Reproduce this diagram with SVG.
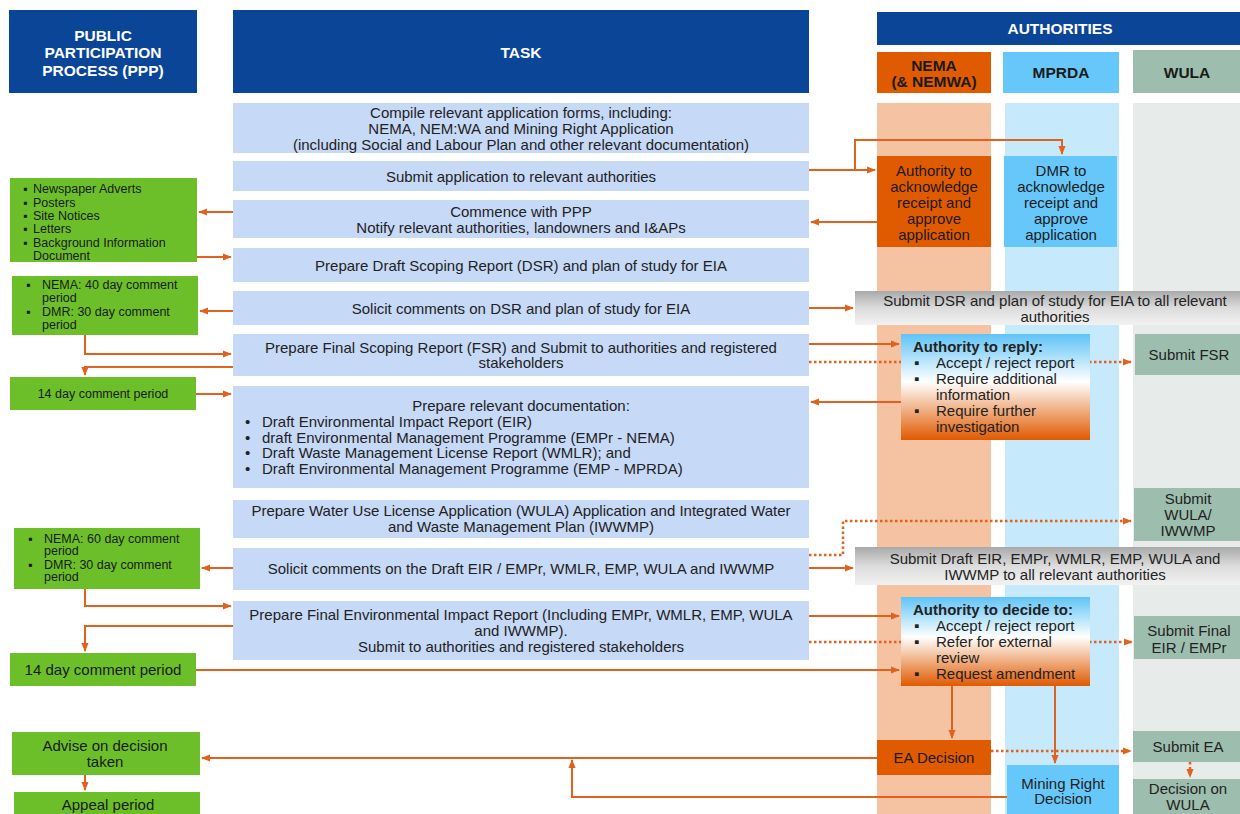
<svg xmlns="http://www.w3.org/2000/svg" width="1240" height="814" viewBox="0 0 1240 814">
<defs>
<marker id="a" viewBox="0 0 10 10" refX="9" refY="5" markerWidth="9" markerHeight="9" orient="auto" markerUnits="userSpaceOnUse">
<path d="M0,1 L10,5 L0,9 z" fill="#e0621c"/>
</marker>
<linearGradient id="gray" x1="0" y1="0" x2="0" y2="1">
<stop offset="0" stop-color="#a9a9a9"/>
<stop offset="0.5" stop-color="#dcdcdc"/>
<stop offset="1" stop-color="#f2f2f2"/>
</linearGradient>
<linearGradient id="bo" x1="0" y1="0" x2="0" y2="1">
<stop offset="0" stop-color="#5fc3f7"/>
<stop offset="0.45" stop-color="#ffffff"/>
<stop offset="1" stop-color="#e05a00"/>
</linearGradient>
<style>
text{font-family:"Liberation Sans",Arial,sans-serif;fill:#222;}
.hd{fill:#0b4598;}
.ht{fill:#fff;font-weight:bold;font-size:15.5px;text-anchor:middle;}
.hk{fill:#1a1a1a;font-weight:bold;font-size:15.5px;text-anchor:middle;}
.task{fill:#c6d9f7;}
.tt{font-size:15px;text-anchor:middle;}
.tl{font-size:15px;}
.grn{fill:#6cbf28;}
.gt{font-size:12.5px;fill:#1a1a1a;}
.gc{text-anchor:middle;fill:#1a1a1a;}
.or{fill:#e05a00;}
.bl{fill:#66c8fa;}
.sg{fill:#9dbeae;}
.at{font-size:15px;text-anchor:middle;fill:#1a1a1a;}
.c{fill:none;stroke:#e0621c;stroke-width:2;}
.d{fill:none;stroke:#e0621c;stroke-width:2.5;stroke-dasharray:2.5 2.5;}
</style>
</defs>
<rect width="1240" height="814" fill="#fff"/>

<!-- lanes -->
<g id="lanes">
<rect x="877" y="103" width="114" height="711" fill="#f5c3a2"/>
<rect x="1005" y="103" width="114" height="711" fill="#c6e9fb"/>
<rect x="1133" y="103" width="107" height="711" fill="#e7ecea"/>
</g>

<!-- headers -->
<g id="hdr-ppp">
<rect class="hd" x="9" y="10" width="188" height="83"/>
<text class="ht" x="103" y="41">PUBLIC</text>
<text class="ht" x="103" y="58">PARTICIPATION</text>
<text class="ht" x="103" y="76">PROCESS (PPP)</text>
</g>
<g id="hdr-task">
<rect class="hd" x="233" y="10" width="576" height="83"/>
<text class="ht" x="521" y="58">TASK</text>
</g>
<g id="hdr-auth">
<rect class="hd" x="877" y="12" width="363" height="33"/>
<text class="ht" x="1060" y="34">AUTHORITIES</text>
</g>
<g id="hdr-nema">
<rect class="or" x="877" y="52" width="114" height="41"/>
<text class="hk" x="934" y="71">NEMA</text>
<text class="hk" x="934" y="87">(&amp; NEMWA)</text>
</g>
<g id="hdr-mprda">
<rect class="bl" x="1003" y="52" width="116" height="41"/>
<text class="hk" x="1061" y="78">MPRDA</text>
</g>
<g id="hdr-wula">
<rect class="sg" x="1133" y="50" width="107" height="43"/>
<text class="hk" x="1187" y="78">WULA</text>
</g>

<!-- connectors -->
<g id="connectors">
<path class="c" d="M809,170 H875" marker-end="url(#a)"/>
<path class="c" d="M855,170 V140 H1062 V154" marker-end="url(#a)"/>
<path class="c" d="M877,222 H811" marker-end="url(#a)"/>
<path class="c" d="M233,212 H199" marker-end="url(#a)"/>
<path class="c" d="M197,257 H231" marker-end="url(#a)"/>
<path class="c" d="M233,311 H200" marker-end="url(#a)"/>
<path class="c" d="M809,308 H853" marker-end="url(#a)"/>
<path class="c" d="M85,335 V354 H231" marker-end="url(#a)"/>
<path class="c" d="M233,367 H85 V375" marker-end="url(#a)"/>
<path class="c" d="M196,394 H231" marker-end="url(#a)"/>
<path class="c" d="M809,344 H899" marker-end="url(#a)"/>
<path class="d" d="M809,362 H1131" marker-end="url(#a)"/>
<path class="c" d="M901,402 H811" marker-end="url(#a)"/>
<path class="c" d="M233,568 H202" marker-end="url(#a)"/>
<path class="c" d="M809,568 H853" marker-end="url(#a)"/>
<path class="d" d="M809,555 H843 V521 H1131" marker-end="url(#a)"/>
<path class="c" d="M85,589 V606 H231" marker-end="url(#a)"/>
<path class="c" d="M233,626 H85 V651" marker-end="url(#a)"/>
<path class="c" d="M809,616 H899" marker-end="url(#a)"/>
<path class="d" d="M809,642 H1132" marker-end="url(#a)"/>
<path class="c" d="M196,670 H899" marker-end="url(#a)"/>
<path class="c" d="M952,686 V738" marker-end="url(#a)"/>
<path class="c" d="M1055,686 V763" marker-end="url(#a)"/>
<path class="c" d="M877,758 H202" marker-end="url(#a)"/>
<path class="c" d="M1007,797 H572 V760" marker-end="url(#a)"/>
<path class="d" d="M991,751 H1131" marker-end="url(#a)"/>
<path class="d" d="M1190,762 V777" marker-end="url(#a)"/>
<path class="c" d="M85,775 V790" marker-end="url(#a)"/>
</g>

<!-- task nodes -->
<g id="task1">
<rect class="task" x="233" y="103" width="576" height="50"/>
<text class="tt" x="521" y="118">Compile relevant application forms, including:</text>
<text class="tt" x="521" y="134">NEMA, NEM:WA and Mining Right Application</text>
<text class="tt" x="521" y="150">(including Social and Labour Plan and other relevant documentation)</text>
</g>
<g id="task2">
<rect class="task" x="233" y="161" width="576" height="30"/>
<text class="tt" x="521" y="182">Submit application to relevant authorities</text>
</g>
<g id="task3">
<rect class="task" x="233" y="200" width="576" height="38"/>
<text class="tt" x="521" y="217">Commence with PPP</text>
<text class="tt" x="521" y="233">Notify relevant authorities, landowners and I&amp;APs</text>
</g>
<g id="task4">
<rect class="task" x="233" y="248" width="576" height="34"/>
<text class="tt" x="521" y="271">Prepare Draft Scoping Report (DSR) and plan of study for EIA</text>
</g>
<g id="task5">
<rect class="task" x="233" y="291" width="576" height="34"/>
<text class="tt" x="521" y="314">Solicit comments on DSR and plan of study for EIA</text>
</g>
<g id="task6">
<rect class="task" x="233" y="334" width="576" height="42"/>
<text class="tt" x="521" y="353">Prepare Final Scoping Report (FSR) and Submit to authorities and registered</text>
<text class="tt" x="521" y="368">stakeholders</text>
</g>
<g id="task7">
<rect class="task" x="233" y="386" width="576" height="102"/>
<text class="tt" x="521" y="411">Prepare relevant documentation:</text>
<text class="tl" x="245" y="427">•</text><text class="tl" x="262" y="427">Draft Environmental Impact Report (EIR)</text>
<text class="tl" x="245" y="443">•</text><text class="tl" x="262" y="443">draft Environmental Management Programme (EMPr - NEMA)</text>
<text class="tl" x="245" y="458">•</text><text class="tl" x="262" y="458">Draft Waste Management License Report (WMLR); and</text>
<text class="tl" x="245" y="474">•</text><text class="tl" x="262" y="474">Draft Environmental Management Programme (EMP - MPRDA)</text>
</g>
<g id="task8">
<rect class="task" x="233" y="500" width="576" height="38"/>
<text class="tt" x="521" y="516">Prepare Water Use License Application (WULA) Application and Integrated Water</text>
<text class="tt" x="521" y="532">and Waste Management Plan (IWWMP)</text>
</g>
<g id="task9">
<rect class="task" x="233" y="548" width="576" height="42"/>
<text class="tt" x="521" y="574">Solicit comments on the Draft EIR / EMPr, WMLR, EMP, WULA and IWWMP</text>
</g>
<g id="task10">
<rect class="task" x="233" y="601" width="576" height="59"/>
<text class="tt" x="521" y="620">Prepare Final Environmental Impact Report (Including EMPr, WMLR, EMP, WULA</text>
<text class="tt" x="521" y="636">and IWWMP).</text>
<text class="tt" x="521" y="652">Submit to authorities and registered stakeholders</text>
</g>

<!-- PPP nodes -->
<g id="ppp1">
<rect class="grn" x="10" y="178" width="187" height="84"/>
<text class="gt" x="23" y="193">▪</text><text class="gt" x="33" y="193">Newspaper Adverts</text>
<text class="gt" x="23" y="207">▪</text><text class="gt" x="33" y="207">Posters</text>
<text class="gt" x="23" y="220">▪</text><text class="gt" x="33" y="220">Site Notices</text>
<text class="gt" x="23" y="233">▪</text><text class="gt" x="33" y="233">Letters</text>
<text class="gt" x="23" y="247">▪</text><text class="gt" x="33" y="247">Background Information</text>
<text class="gt" x="33" y="260">Document</text>
</g>
<g id="ppp2">
<rect class="grn" x="12" y="276" width="186" height="59"/>
<text class="gt" x="26" y="289">▪</text><text class="gt" x="42" y="289">NEMA: 40 day comment</text>
<text class="gt" x="42" y="302">period</text>
<text class="gt" x="26" y="316">▪</text><text class="gt" x="42" y="316">DMR: 30 day comment</text>
<text class="gt" x="42" y="329">period</text>
</g>
<g id="ppp3">
<rect class="grn" x="10" y="377" width="186" height="33"/>
<text class="gc" x="103" y="398" font-size="12.5">14 day comment period</text>
</g>
<g id="ppp4">
<rect class="grn" x="14" y="528" width="186" height="61"/>
<text class="gt" x="28" y="543">▪</text><text class="gt" x="44" y="543">NEMA: 60 day comment</text>
<text class="gt" x="44" y="555" font-size="10.5">period</text>
<text class="gt" x="28" y="569">▪</text><text class="gt" x="44" y="569">DMR: 30 day comment</text>
<text class="gt" x="44" y="581" font-size="10.5">period</text>
</g>
<g id="ppp5">
<rect class="grn" x="10" y="653" width="186" height="33"/>
<text class="gc" x="103" y="675" font-size="15">14 day comment period</text>
</g>
<g id="ppp6">
<rect class="grn" x="12" y="732" width="188" height="43"/>
<text class="gc" x="105" y="751" font-size="15">Advise on decision</text>
<text class="gc" x="105" y="767" font-size="15">taken</text>
</g>
<g id="ppp7">
<rect class="grn" x="14" y="792" width="186" height="22"/>
<text class="gc" x="108" y="810" font-size="15">Appeal period</text>
</g>

<!-- authority nodes -->
<g id="nema-ack">
<rect class="or" x="877" y="156" width="114" height="91"/>
<text class="at" x="934" y="176">Authority to</text>
<text class="at" x="934" y="192">acknowledge</text>
<text class="at" x="934" y="208">receipt and</text>
<text class="at" x="934" y="224">approve</text>
<text class="at" x="934" y="240">application</text>
</g>
<g id="dmr-ack">
<rect class="bl" x="1004" y="156" width="113" height="91"/>
<text class="at" x="1061" y="176">DMR to</text>
<text class="at" x="1061" y="192">acknowledge</text>
<text class="at" x="1061" y="208">receipt and</text>
<text class="at" x="1061" y="224">approve</text>
<text class="at" x="1061" y="240">application</text>
</g>
<g id="submit-dsr">
<rect x="855" y="291" width="385" height="34" fill="url(#gray)"/>
<text class="tt" x="1055" y="306">Submit DSR and plan of study for EIA to all relevant</text>
<text class="tt" x="1055" y="322">authorities</text>
</g>
<g id="reply">
<rect x="901" y="334" width="189" height="106" fill="url(#bo)"/>
<text class="tl" x="913" y="352" font-weight="bold">Authority to reply:</text>
<text class="tl" x="914" y="368">▪</text><text class="tl" x="936" y="368">Accept / reject report</text>
<text class="tl" x="914" y="384">▪</text><text class="tl" x="936" y="384">Require additional</text>
<text class="tl" x="936" y="400">information</text>
<text class="tl" x="914" y="416">▪</text><text class="tl" x="936" y="416">Require further</text>
<text class="tl" x="936" y="432">investigation</text>
</g>
<g id="submit-fsr">
<rect class="sg" x="1135" y="334" width="105" height="41"/>
<text class="tt" x="1189" y="360">Submit FSR</text>
</g>
<g id="submit-wula">
<rect class="sg" x="1134" y="488" width="106" height="53"/>
<text class="tt" x="1188" y="504">Submit</text>
<text class="tt" x="1188" y="520">WULA/</text>
<text class="tt" x="1188" y="536">IWWMP</text>
</g>
<g id="submit-draft">
<rect x="855" y="547" width="385" height="38" fill="url(#gray)"/>
<text class="tt" x="1055" y="564">Submit Draft EIR, EMPr, WMLR, EMP, WULA and</text>
<text class="tt" x="1055" y="580">IWWMP to all relevant authorities</text>
</g>
<g id="decide">
<rect x="901" y="597" width="189" height="89" fill="url(#bo)"/>
<text class="tl" x="913" y="615" font-weight="bold">Authority to decide to:</text>
<text class="tl" x="914" y="631">▪</text><text class="tl" x="936" y="631">Accept / reject report</text>
<text class="tl" x="914" y="647">▪</text><text class="tl" x="936" y="647">Refer for external</text>
<text class="tl" x="936" y="663">review</text>
<text class="tl" x="914" y="679">▪</text><text class="tl" x="936" y="679">Request amendment</text>
</g>
<g id="submit-final">
<rect class="sg" x="1134" y="616" width="106" height="43"/>
<text class="tt" x="1189" y="636">Submit Final</text>
<text class="tt" x="1189" y="653">EIR / EMPr</text>
</g>
<g id="ea-decision">
<rect class="or" x="877" y="740" width="114" height="35"/>
<text class="at" x="934" y="763" font-size="15.5">EA Decision</text>
</g>
<g id="mr-decision">
<rect class="bl" x="1007" y="765" width="112" height="49"/>
<text class="tt" x="1063" y="789">Mining Right</text>
<text class="tt" x="1063" y="804">Decision</text>
</g>
<g id="submit-ea">
<rect class="sg" x="1133" y="731" width="107" height="31"/>
<text class="tt" x="1188" y="752">Submit EA</text>
</g>
<g id="wula-decision">
<rect class="sg" x="1133" y="779" width="107" height="35"/>
<text class="tt" x="1188" y="794">Decision on</text>
<text class="tt" x="1188" y="810">WULA</text>
</g>
</svg>
